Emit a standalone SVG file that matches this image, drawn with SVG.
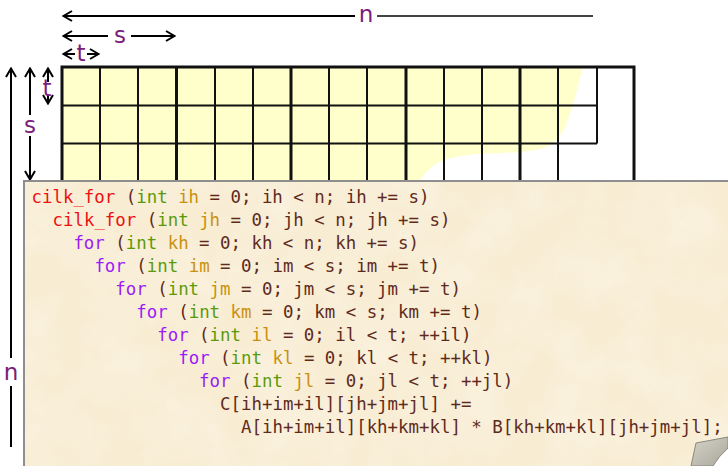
<svg xmlns="http://www.w3.org/2000/svg" width="728" height="466" viewBox="0 0 728 466">
<style>
.g{stroke:#111;stroke-width:2;fill:none}
.gt{stroke:#111;stroke-width:3;fill:none}
.dim{stroke:#000;stroke-width:2;fill:none}
.lbl{font-family:"DejaVu Sans",Verdana,sans-serif;font-size:23px;fill:#7b1c7b;text-anchor:middle;dominant-baseline:central}
.code{font-family:"DejaVu Sans Mono","Liberation Mono",monospace;font-size:17.4px;fill:#5e2a1c}
.r{fill:#ee1111}.p{fill:#9b1cf5}.k{fill:#5a9a0a}.v{fill:#c8900e}
</style>
<defs>
<marker id="ah" viewBox="0 0 12 12" refX="11" refY="6" markerWidth="12" markerHeight="12" markerUnits="userSpaceOnUse" orient="auto-start-reverse">
<path d="M2,1 L10.5,6 L2,11" fill="none" stroke="#000" stroke-width="2"/>
</marker>
<filter id="paper" x="0" y="0" width="100%" height="100%">
<feTurbulence type="fractalNoise" baseFrequency="0.02" numOctaves="4" seed="7"/>
<feColorMatrix type="matrix" values="0 0 0 0 1  0 0 0 0 1  0 0 0 0 0.97  1.2 0 0 0 -0.35"/>
</filter>
<linearGradient id="curl" x1="0" y1="0" x2="1" y2="1">
<stop offset="0" stop-color="#d6d4ca"/>
<stop offset="1" stop-color="#a9a79a"/>
</linearGradient>
</defs>

<g id="grid">
<path d="M62,67 L583,67 C578,85 575,100 572,107 C568,122 563,135 553,143 C545,150 530,152 500,153 C470,154 445,156 433,166 C426,172 422,177 420,181 L62,181 Z" fill="#ffffcc"/>
<path class="g" d="M100,67V181M138,67V181M215,67V181M253,67V181M329,67V181M367,67V181M444,67V181M482,67V181M558,67V181M597,67V143.5M62,105.5H597M62,143.5H597"/>
<path class="gt" d="M176.5,67V181M291,67V181M406,67V181M520,67V181"/>
<path class="gt" d="M62,181V67H634V181"/>
</g>

<g id="dimensions">
<g id="dim-n-h">
<path class="dim" d="M63,16H355" marker-start="url(#ah)"/>
<path d="M377,16H593" stroke="#444" stroke-width="2"/>
<text class="lbl" x="366" y="14">n</text>
</g>
<g id="dim-s-h">
<path class="dim" d="M63,36H108" marker-start="url(#ah)"/>
<path class="dim" d="M131,36H175" marker-end="url(#ah)"/>
<text class="lbl" x="120" y="35">s</text>
</g>
<g id="dim-t-h">
<path class="dim" d="M63,54H75" marker-start="url(#ah)"/>
<path class="dim" d="M87,54H99" marker-end="url(#ah)"/>
<text class="lbl" x="81" y="53">t</text>
</g>
<g id="dim-n-v">
<path class="dim" d="M11,68V358" marker-start="url(#ah)"/>
<path class="dim" d="M11,386V447"/>
<text class="lbl" x="11" y="372">n</text>
</g>
<g id="dim-s-v">
<path class="dim" d="M30,68V115" marker-start="url(#ah)"/>
<path class="dim" d="M30,136V180" marker-end="url(#ah)"/>
<text class="lbl" x="30" y="125">s</text>
</g>
<g id="dim-t-v">
<path class="dim" d="M48,68V82" marker-start="url(#ah)"/>
<path class="dim" d="M48,95V104" marker-end="url(#ah)"/>
<text class="lbl" x="47" y="88">t</text>
</g>
</g>

<g id="code-box">
<rect x="24" y="181" width="712" height="295" fill="#f8ecd2" stroke="#8e8e8e" stroke-width="2"/>
<rect x="25" y="182" width="703" height="284" fill="#fff" filter="url(#paper)" opacity="0.45"/>
<g class="code" xml:space="preserve">
<text x="31.5" y="203"><tspan class="r">cilk_for</tspan> (<tspan class="k">int</tspan> <tspan class="v">ih</tspan> = 0; ih &lt; n; ih += s)</text>
<text x="52.5" y="226"><tspan class="r">cilk_for</tspan> (<tspan class="k">int</tspan> <tspan class="v">jh</tspan> = 0; jh &lt; n; jh += s)</text>
<text x="73.4" y="249"><tspan class="p">for</tspan> (<tspan class="k">int</tspan> <tspan class="v">kh</tspan> = 0; kh &lt; n; kh += s)</text>
<text x="94.4" y="272"><tspan class="p">for</tspan> (<tspan class="k">int</tspan> <tspan class="v">im</tspan> = 0; im &lt; s; im += t)</text>
<text x="115.3" y="295"><tspan class="p">for</tspan> (<tspan class="k">int</tspan> <tspan class="v">jm</tspan> = 0; jm &lt; s; jm += t)</text>
<text x="136.3" y="318"><tspan class="p">for</tspan> (<tspan class="k">int</tspan> <tspan class="v">km</tspan> = 0; km &lt; s; km += t)</text>
<text x="157.2" y="341"><tspan class="p">for</tspan> (<tspan class="k">int</tspan> <tspan class="v">il</tspan> = 0; il &lt; t; ++il)</text>
<text x="178.2" y="364"><tspan class="p">for</tspan> (<tspan class="k">int</tspan> <tspan class="v">kl</tspan> = 0; kl &lt; t; ++kl)</text>
<text x="199.1" y="387"><tspan class="p">for</tspan> (<tspan class="k">int</tspan> <tspan class="v">jl</tspan> = 0; jl &lt; t; ++jl)</text>
<text x="220.1" y="410">C[ih+im+il][jh+jm+jl] +=</text>
<text x="241" y="433">A[ih+im+il][kh+km+kl] * B[kh+km+kl][jh+jm+jl];</text>
</g>
</g>

<g id="page-curl">
<path d="M728,448 Q718,457 713,466 L728,466 Z" fill="#fff"/>
<path d="M696,443 L728,437 L728,448 Q718,457 713,466 L691,466 Z" fill="url(#curl)" stroke="#8a887c" stroke-width="1"/>
</g>
</svg>
